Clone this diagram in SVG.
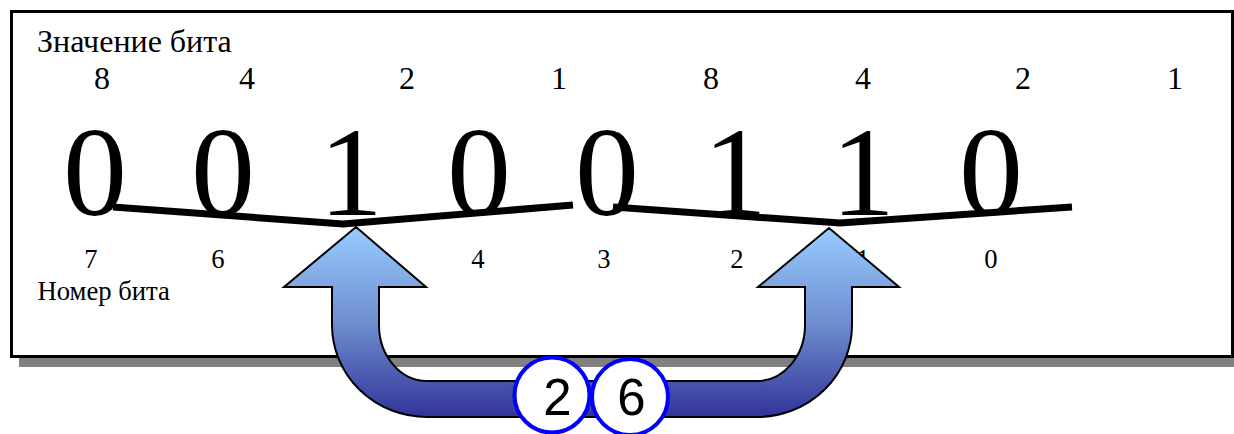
<svg xmlns="http://www.w3.org/2000/svg" width="1234" height="434" viewBox="0 0 1234 434">
<style>
.ser{font-family:"Liberation Serif","Times New Roman",serif;fill:#000}
.big{font-size:128px;text-anchor:middle}
.val{font-size:32px;text-anchor:middle}
.num{font-size:26.67px;text-anchor:middle}
.lbl32{font-size:32px}
.lbl27{font-size:26.67px}
.bar{fill:none;stroke:#000;stroke-width:7;stroke-linejoin:miter}
.circ{fill:#fff;stroke:#0000ff;stroke-width:4}
.ctext{font-family:"Liberation Sans",Arial,sans-serif;font-size:51px;text-anchor:middle;fill:#000}
</style>
<defs>
<linearGradient id="grad" x1="0" y1="0" x2="0" y2="1">
<stop offset="0" stop-color="#99ccff"/>
<stop offset="0.5" stop-color="#6f8fd0"/>
<stop offset="1" stop-color="#333399"/>
</linearGradient>
</defs>
<g id="frame">
<rect x="19" y="20" width="1225" height="347" fill="#808080"/>
<rect x="11.5" y="11.5" width="1221" height="345" fill="#fff" stroke="#000" stroke-width="3"/>
</g>
<g id="labels">
<text class="ser lbl32" x="37" y="52">Значение бита</text>
<text class="ser lbl27" x="37.5" y="300">Номер бита</text>
</g>
<g id="values">
<text class="ser val" x="102" y="89">8</text>
<text class="ser val" x="247" y="89">4</text>
<text class="ser val" x="407" y="89">2</text>
<text class="ser val" x="559" y="89">1</text>
<text class="ser val" x="711" y="89">8</text>
<text class="ser val" x="863" y="89">4</text>
<text class="ser val" x="1023" y="89">2</text>
<text class="ser val" x="1175" y="89">1</text>
</g>
<g id="bitnumbers">
<text class="ser num" x="91" y="268">7</text>
<text class="ser num" x="218" y="268">6</text>
<text class="ser num" x="478" y="268">4</text>
<text class="ser num" x="604" y="268">3</text>
<text class="ser num" x="737" y="268">2</text>
<text class="ser num" x="863" y="268">1</text>
<text class="ser num" x="991" y="268">0</text>
</g>
<g id="bits">
<text class="ser big" x="95" y="215">0</text>
<text class="ser big" x="223" y="215">0</text>
<text class="ser big" x="351" y="215">1</text>
<text class="ser big" x="479" y="215">0</text>
<text class="ser big" x="607" y="215">0</text>
<text class="ser big" x="735" y="215">1</text>
<text class="ser big" x="863" y="215">1</text>
<text class="ser big" x="991" y="215">0</text>
</g>
<g id="connectors">
<polyline class="bar" points="113,207 343,224 573,205"/>
<polyline class="bar" points="613,207 840,223 1072,207"/>
</g>
<g id="uarrow">
<path d="M356,227 L426,287 L379,287 L379,325 A48 56 0 0 0 427,381 L757,381 A48 56 0 0 0 805,325 L805,287 L758,287 L829,228 L899,287 L852,287 L852,325 A95 92 0 0 1 757,417 L427,417 A95 92 0 0 1 332,325 L332,287 L284,287 Z" fill="url(#grad)" stroke="#000" stroke-width="2" stroke-linejoin="miter"/>
</g>
<g id="nibble-hi">
<circle class="circ" cx="552" cy="395" r="37.5"/>
<text class="ctext" x="557.5" y="415">2</text>
</g>
<g id="nibble-lo">
<circle class="circ" cx="630" cy="397" r="38"/>
<text class="ctext" x="631.5" y="415">6</text>
</g>
</svg>
